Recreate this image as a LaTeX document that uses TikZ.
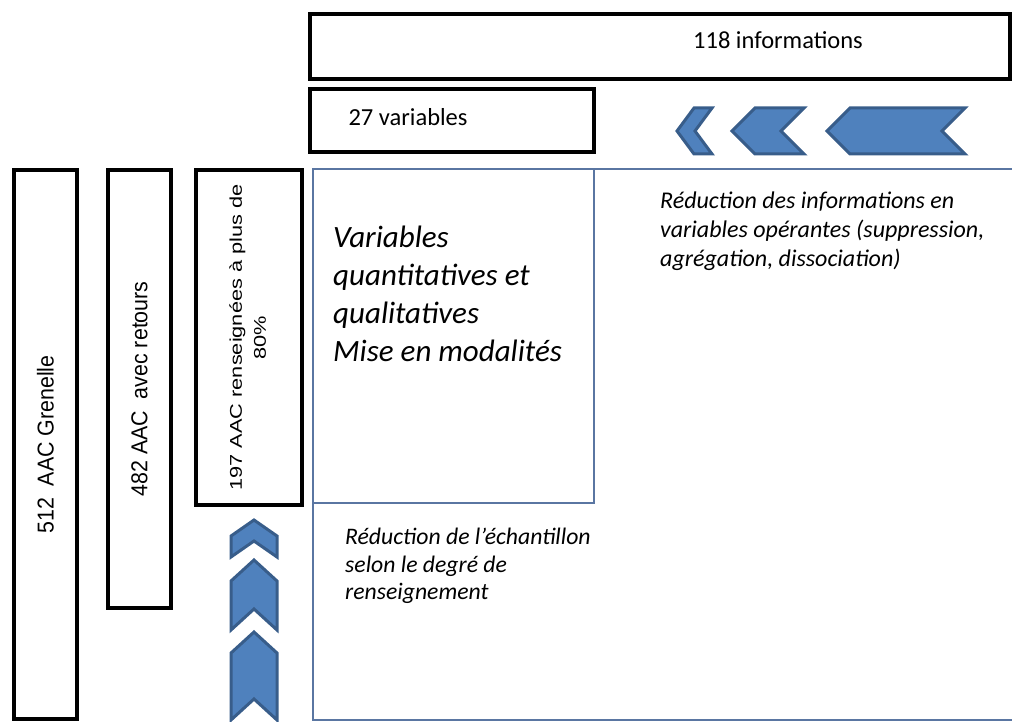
\documentclass[tikz,border=0pt]{standalone}
\usepackage{fontspec}
\setmainfont{Carlito}
\newfontfamily\arialfont{Liberation Sans}
\usetikzlibrary{positioning}
\definecolor{chevfill}{RGB}{79,129,189}
\definecolor{chevline}{RGB}{56,93,138}
\definecolor{framebl}{RGB}{90,118,162}
\begin{document}
\begin{tikzpicture}[x=1pt, y=-1pt,
  box/.style={draw, line width=4pt, inner sep=0pt},
  bluebox/.style={draw=framebl, line width=2.5pt, inner sep=0pt, outer sep=0pt},
  chev/.style={fill=chevfill, draw=chevline, line width=3pt, line join=miter},
  htxt/.style={inner sep=0pt, font=\fontsize{24.5}{30}\selectfont},
  vtxt/.style={font=\arialfont\fontsize{23}{28}\selectfont},
  ittxt/.style={inner sep=0pt, align=left, anchor=north west, font=\itshape\fontsize{24}{29}\selectfont}]
\useasboundingbox (0,0) rectangle (1012,722);

\node[box, minimum width=700pt, minimum height=65pt] (info) at (660,46.5) {};
\node[htxt] (infotxt) at (778,40) {118 informations};
\node[box, minimum width=284pt, minimum height=63pt] (vars) at (452,120.5) {};
\node[htxt] (varstxt) at (408,117) {27 variables};

\node[box, vtxt, minimum width=63pt, minimum height=549pt] (grenelle) at (45.5,444.5)
  {\rotatebox{90}{\scalebox{0.93}[1]{512\ \ AAC Grenelle}}};
\node[box, vtxt, minimum width=63pt, minimum height=438pt] (retours) at (139.5,389)
  {\rotatebox{90}{\scalebox{0.93}[1]{482 AAC\ \ avec retours}}};
\node[box, font=\arialfont\fontsize{17}{24}\selectfont, minimum width=106pt, minimum height=335pt] (renseig) at (249,337.5)
  {\rotatebox{90}{\scalebox{1.28}[1]{\begin{tabular}{@{}c@{}}197 AAC renseignées à plus de\\80\%\end{tabular}}}};

\node[bluebox, minimum width=281pt, minimum height=334pt] (modal) at (453.5,336) {};
\coordinate (topend) at (1012,169);
\coordinate (corner) at (313,720);
\coordinate (botend) at (1012,720);
\draw[framebl, line width=2.5pt] (topend) -- (modal.north west) -- (corner) -- (botend);

\node[ittxt, font=\itshape\fontsize{31}{38}\selectfont] (modtxt) at (333,226)
  {Variables\\quantitatives et\\qualitatives\\Mise en modalités};
\node[ittxt] (redinfo) at (660,192)
  {Réduction des informations en\\variables opérantes (suppression,\\agrégation, dissociation)};
\node[ittxt, font=\itshape\fontsize{23.7}{27.5}\selectfont] (redech) at (345,528)
  {Réduction de l’échantillon\\selon le degré de\\renseignement};

\foreach \tip/\rgt/\d in {677/712/17, 732/804/23, 827/965/23}
  \draw[chev] (\tip,131) -- (\tip+\d,108) -- (\rgt,108) -- (\rgt-\d,131) -- (\rgt,154) -- (\tip+\d,154) -- cycle;
\foreach \apex/\bot/\d in {520/557/16, 560/630/21, 632/720/21}
  \draw[chev] (254,\apex) -- (277,\apex+\d) -- (277,\bot) -- (254,\bot-\d) -- (231,\bot) -- (231,\apex+\d) -- cycle;
\end{tikzpicture}
\end{document}
